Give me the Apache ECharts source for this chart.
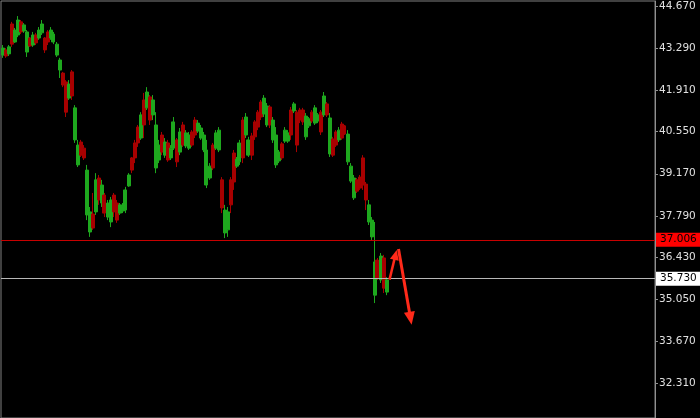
<!DOCTYPE html>
<html>
<head>
<meta charset="utf-8">
<script src="https://cdn.jsdelivr.net/npm/echarts@6/dist/echarts.min.js"></script>
<style>
html,body{margin:0;padding:0;background:#000;}
#chart{width:700px;height:418px;}
</style>
</head>
<body>
<div id="chart"></div>
<script>
// ---- data ----
const openPrices = [
43.06,43.23,43.10,44.08,43.49,43.72,44.15,43.85,43.16,43.62,
43.39,43.72,43.62,43.79,43.62,43.82,43.62,43.49,43.06,42.57,
42.47,42.18,41.65,42.51,40.28,39.46,40.21,40.01,37.82,37.26,
37.85,37.92,39.03,38.21,38.47,37.75,37.59,38.47,38.21,37.88,
37.95,37.98,38.77,39.69,40.18,40.70,40.34,41.59,41.33,41.69,
41.10,39.36,39.62,40.44,39.78,40.18,39.69,40.01,40.28,39.88,
40.77,40.08,40.01,40.54,40.93,40.57,40.34,39.95,38.80,39.03,
40.11,40.01,39.95,38.97,37.23,37.33,38.97,39.85,39.42,39.56,
40.93,40.44,39.78,40.41,40.87,41.19,41.52,41.13,40.77,41.36,
40.28,39.46,39.59,40.15,40.24,40.24,41.26,41.23,41.19,41.26,
41.26,40.38,40.74,41.19,40.83,40.90,41.19,41.10,41.46,39.82,
40.31,40.54,40.28,40.80,40.74,39.56,38.93,38.38,38.97,39.06,
39.69,38.83,37.59,37.10,35.19,36.34,35.69,36.41,35.29];
const closePrices = [
43.29,43.03,43.33,43.42,43.88,44.21,43.82,44.05,43.82,43.36,
43.72,43.46,43.88,44.08,43.23,43.49,43.88,43.75,43.42,42.90,
42.08,41.19,42.11,41.72,41.33,40.11,39.78,39.69,39.29,37.92,
37.39,38.97,38.31,38.80,37.88,38.21,38.31,37.92,37.65,38.15,
38.11,38.64,39.13,39.29,39.69,40.18,41.10,40.77,41.85,40.93,
41.59,40.77,40.11,39.88,40.21,39.62,40.01,40.87,39.56,40.54,
40.11,40.51,40.44,40.11,40.44,40.83,40.67,40.44,39.95,39.42,
39.36,40.51,40.60,38.05,37.98,37.92,38.15,38.90,39.65,40.18,
39.69,41.03,40.28,39.78,40.38,40.70,41.03,41.65,41.39,40.77,
40.93,40.44,39.88,39.69,40.60,40.51,40.44,41.46,40.11,40.93,
40.87,41.06,40.97,40.90,41.33,41.10,40.54,41.72,41.10,41.00,
39.78,40.11,40.60,40.34,40.47,40.47,39.42,39.03,38.60,38.70,
38.80,38.31,38.15,37.65,36.28,35.75,36.47,35.42,35.69];
const lowPrices = [
42.97,42.97,43.03,43.33,43.46,43.65,43.75,43.79,43.00,43.33,
43.33,43.39,43.56,43.72,43.13,43.39,43.56,43.42,43.00,42.31,
42.01,41.03,41.59,41.59,40.18,39.39,39.72,39.62,37.65,37.10,
37.33,37.82,38.15,38.08,37.75,37.65,37.42,37.75,37.56,37.82,
37.88,37.88,38.74,39.19,39.52,40.05,40.28,40.34,41.26,40.77,
40.93,39.19,39.52,39.78,39.69,39.56,39.62,39.95,39.39,39.78,
40.05,40.01,39.95,40.05,40.34,40.51,40.28,39.88,38.70,38.97,
39.29,39.95,39.88,37.88,37.06,37.10,37.88,38.64,39.36,39.46,
39.52,40.34,39.72,39.62,40.28,40.60,40.93,41.03,40.70,40.67,
40.18,39.36,39.52,39.62,40.18,40.18,40.28,41.16,39.88,40.83,
40.77,40.28,40.67,40.83,40.77,40.83,40.44,41.03,41.03,39.72,
39.72,40.05,40.21,40.28,40.44,39.46,38.87,38.31,38.54,38.64,
38.64,37.98,37.49,37.00,34.93,35.69,35.59,35.26,35.19];
const highPrices = [
43.39,43.29,43.39,44.15,43.95,44.34,44.21,44.11,43.88,43.65,
43.82,43.79,43.98,44.21,43.65,43.88,43.98,43.82,43.49,42.97,
42.51,42.24,42.24,42.57,41.42,40.28,40.28,40.11,39.46,38.08,
38.54,39.19,39.13,38.97,38.54,38.31,38.41,38.54,38.31,38.21,
38.21,38.74,39.19,39.72,40.28,40.77,41.19,41.82,42.01,41.75,
41.75,41.19,40.28,40.54,40.34,40.28,40.11,41.03,40.34,40.67,
40.87,40.60,40.54,40.60,41.03,40.93,40.77,40.54,40.28,39.52,
40.18,40.60,40.70,39.06,38.15,38.08,39.06,39.95,39.72,40.28,
41.03,41.16,40.38,40.51,40.93,41.26,41.59,41.75,41.49,41.42,
41.03,40.70,39.95,40.21,40.70,40.60,41.36,41.52,41.26,41.33,
41.33,41.16,41.03,41.26,41.42,41.16,41.26,41.85,41.52,41.16,
40.38,40.60,40.70,40.87,40.77,40.60,39.52,39.13,39.03,39.13,
39.78,38.90,38.31,37.75,37.59,36.41,36.57,36.51,35.78];
const priceTicks = [44.670,43.290,41.910,40.550,39.170,37.790,36.430,35.050,33.670,32.310];
const resistanceLevel = 37.006;
const currentPrice = 35.730;
// arrows: [barIndexFrom, priceFrom, barIndexTo, priceTo]
const upArrow = [129, 35.70, 131, 36.51];
const downArrow = [132, 36.70, 136, 34.43];
const slotCount = 218; // bar slots across the chart width
const yMin = 31.162, yMax = 44.834;

// ---- build ----
const categories = Array.from({length: slotCount}, (_, i) => String(i));
const ohlc = openPrices.map((o, i) => [o, closePrices[i], lowPrices[i], highPrices[i]]);

const FONT = 'DejaVu Sans';
const arrowColor = '#ff2a1a';

function levelSeries(value, lineColor, boxColor) {
  return {
    type: 'line', data: [], silent: true,
    markLine: {
      silent: true, animation: false, symbol: 'none', precision: 3,
      lineStyle: {color: lineColor, width: 1, type: 'solid'},
      label: {show: true, position: 'end', distance: 1,
              formatter: () => value.toFixed(3),
              backgroundColor: boxColor, color: '#000', fontFamily: FONT, fontSize: 10.5,
              lineHeight: 12, padding: [1, 4, 1, 4]},
      data: [{yAxis: value}]
    }
  };
}
function arrowSeries(a, size, w) {
  return {
    type: 'line', data: [], silent: true,
    markLine: {
      silent: true, animation: false,
      symbol: ['none', 'triangle'], symbolSize: size,
      lineStyle: {color: arrowColor, width: w, type: 'solid'},
      itemStyle: {color: arrowColor},
      label: {show: false},
      data: [[{coord: [String(a[0]), a[1]]}, {coord: [String(a[2]), a[3]]}]]
    }
  };
}

const chart = echarts.init(document.getElementById('chart'), null, {renderer: 'canvas'});
chart.setOption({
  backgroundColor: '#000000',
  animation: false,
  grid: {left: 1, top: 1, right: 45, bottom: 0, show: true, borderColor: '#808080', borderWidth: 1, backgroundColor: '#000'},
  xAxis: {type: 'category', data: categories, show: false, boundaryGap: true},
  yAxis: {
    type: 'value', position: 'right', min: yMin, max: yMax,
    splitLine: {show: false},
    axisLine: {show: true, lineStyle: {color: '#909090', width: 1}},
    axisTick: {show: true, length: 3, inside: false, lineStyle: {color: '#909090'}, customValues: priceTicks},
    axisLabel: {
      show: true, customValues: priceTicks, margin: 4, color: '#e0e0e0',
      fontFamily: FONT, fontSize: 10.5,
      formatter: v => Number(v).toFixed(3)
    }
  },
  series: [
    {
      type: 'candlestick',
      data: ohlc,
      barWidth: 3.5,
      barMaxWidth: 3.5,
      barMinWidth: 3.5,
      itemStyle: {color: '#1ea81e', color0: '#a80000', borderColor: '#1ea81e', borderColor0: '#a80000', borderWidth: 1}
    },
    levelSeries(resistanceLevel, '#c80000', '#ff0000'),
    levelSeries(currentPrice, '#b8b8b8', '#ffffff'),
    arrowSeries(upArrow, [9, 10], 2.5),
    arrowSeries(downArrow, [11, 13], 3)
  ]
});
</script>
</body>
</html>
